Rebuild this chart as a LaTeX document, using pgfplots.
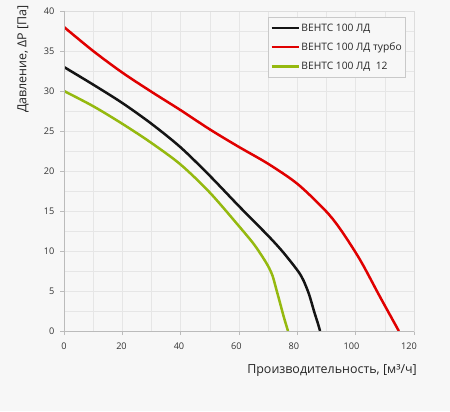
\documentclass[border=0pt]{standalone}
\usepackage{pgfplots}
\pgfplotsset{compat=1.18}
\usepackage{fontspec}
\setmainfont{Open Sans}
\definecolor{bg}{HTML}{F7F7F7}
\definecolor{gridc}{HTML}{E6E6E6}
\definecolor{framec}{HTML}{DDDDDD}
\definecolor{axc}{HTML}{BBBBBB}
\definecolor{txt}{HTML}{333333}
\definecolor{cblack}{HTML}{141414}
\definecolor{cred}{HTML}{E00000}
\definecolor{cgreen}{HTML}{95B90F}
\begin{document}
\begin{tikzpicture}[x=1bp,y=1bp]
\fill[bg] (0,0) rectangle (450,411);
\useasboundingbox (0,0) rectangle (450,411);
\begin{axis}[
  at={(64bp,80bp)}, anchor=south west,
  scale only axis, width=350bp, height=320bp,
  xmin=0, xmax=120, ymin=0, ymax=40,
  xtick={0,20,...,120}, ytick={0,5,...,40},
  minor x tick num=1, minor y tick num=1,
  grid=both,
  major grid style={gridc, line width=0.6bp},
  minor grid style={gridc, line width=0.6bp},
  axis line style={framec, line width=0.8bp},
  tick align=outside, xtick pos=left, ytick pos=left,
  major tick length=4bp, minor tick length=0pt,
  tick style={axc, line width=0.6bp},
  /pgf/number format/assume math mode=true,
  ticklabel style={font=\fontsize{9.2}{11}\selectfont, text=txt},
  xticklabel={\pgfmathsetmacro{\sh}{-0.084*\tick}\hspace*{\sh bp}\pgfmathprintnumber{\tick}},
  xticklabel style={yshift=-4bp},
  yticklabel style={xshift=-2bp},
  xlabel={Производительность, [м³/ч]},
  ylabel={Давление, ΔP [Па]},
  label style={font=\fontsize{12.5}{14}\selectfont, text=black!85, inner sep=0pt},
  xlabel style={at={(rel axis cs:1,0)}, anchor=base east, xshift=3bp, yshift=-42bp},
  ylabel style={at={(axis description cs:-0.117,1.019)}, anchor=east},
  legend style={at={(rel axis cs:0.9754,0.980)}, anchor=north east,
    draw=axc!80, fill=bg, font=\fontsize{10.3}{12}\selectfont, text=black!85,
    row sep=6bp, inner xsep=2bp, inner ysep=4bp,
    nodes={inner xsep=1.5bp}},
  legend cell align=left,
  legend image code/.code={\draw[#1] (0bp,0bp) -- (27bp,0bp);},
  every axis plot/.append style={line width=2.5bp, smooth, tension=0.5, no markers},
]
\addplot[cblack] coordinates {
 (0,33) (10,30.8) (20,28.5) (30,25.9) (40,22.95) (50,19.4) (60,15.6)
 (70,11.9) (75,9.9) (80,7.6) (82,6.4) (84,4.6) (85.7,2.5) (87,1.0) (87.8,0)};
\addlegendentry{ВЕНТС 100 ЛД}
\addplot[cred] coordinates {
 (0,38) (10,35.0) (20,32.3) (30,29.9) (40,27.6) (50,25.2) (60,23.0)
 (70,20.9) (80,18.4) (89.5,15.1) (94.6,12.8) (101.5,8.9) (108.3,4.3) (114.8,0)};
\addlegendentry{ВЕНТС 100 ЛД турбо\hspace{16bp}}
\addplot[cgreen] coordinates {
 (0,30) (10,28.1) (20,25.9) (30,23.5) (40,20.8) (50,17.3) (60,13.1)
 (65,10.9) (68,9.3) (70,8.1) (71.5,6.9) (72.8,5.2) (74,3.6) (75.4,1.7) (76.8,0)};
\addlegendentry{ВЕНТС 100 ЛД\ \ 12}
\draw[axc, line width=0.8bp] (rel axis cs:0,1) -- (rel axis cs:0,0) -- (rel axis cs:1,0);
\end{axis}
\end{tikzpicture}
\end{document}
